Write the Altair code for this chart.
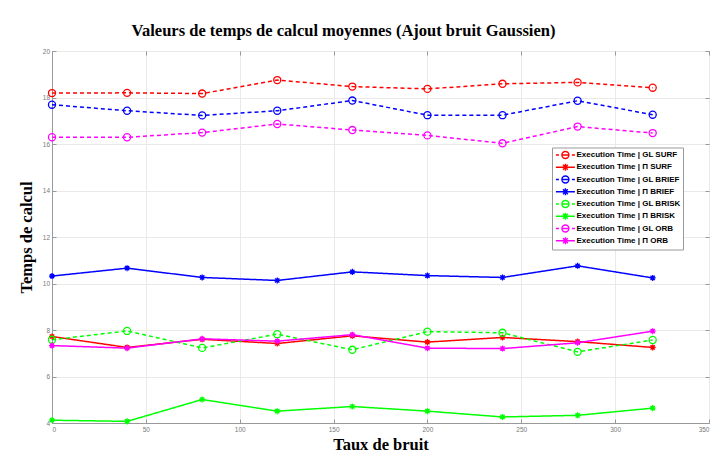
import altair as alt
import pandas as pd

# ---- data ----
x_vals = [0, 40, 80, 120, 160, 200, 240, 280, 320]
series_names = [
    "Execution Time | GL SURF",
    "Execution Time | Π SURF",
    "Execution Time | GL BRIEF",
    "Execution Time | Π BRIEF",
    "Execution Time | GL BRISK",
    "Execution Time | Π BRISK",
    "Execution Time | GL ORB",
    "Execution Time | Π ORB",
]
gl_surf = [18.19, 18.20, 18.17, 18.75, 18.47, 18.37, 18.59, 18.65, 18.42]
pi_surf = [7.72, 7.25, 7.60, 7.42, 7.75, 7.48, 7.68, 7.50, 7.25]
gl_brief = [17.69, 17.43, 17.23, 17.43, 17.87, 17.24, 17.24, 17.86, 17.26]
pi_brief = [10.32, 10.66, 10.26, 10.13, 10.50, 10.34, 10.26, 10.76, 10.24]
gl_brisk = [7.58, 7.96, 7.23, 7.82, 7.15, 7.93, 7.88, 7.06, 7.57]
pi_brisk = [4.12, 4.07, 5.01, 4.51, 4.71, 4.51, 4.26, 4.33, 4.64]
gl_orb = [16.29, 16.29, 16.49, 16.86, 16.60, 16.37, 16.03, 16.75, 16.47]
pi_orb = [7.33, 7.22, 7.62, 7.52, 7.80, 7.22, 7.20, 7.45, 7.95]
series_values = [gl_surf, pi_surf, gl_brief, pi_brief, gl_brisk, pi_brisk, gl_orb, pi_orb]

x_ticks = [0, 50, 100, 150, 200, 250, 300, 350]
y_ticks = [4, 6, 8, 10, 12, 14, 16, 18, 20]

# ---- styles ----
series_colors = ["#ff0000", "#ff0000", "#0000ff", "#0000ff",
                 "#00ff00", "#00ff00", "#ff00ff", "#ff00ff"]
series_dashes = [[4, 3], [1, 0]] * 4
series_fills = ["transparent" if i % 2 == 0 else c for i, c in enumerate(series_colors)]

# plot markers (unit square paths)
circle_mark = "circle"
star_mark = ("M-0.85,0L0.85,0M0,-0.85L0,0.85M-0.6,-0.6L0.6,0.6M-0.6,0.6L0.6,-0.6"
             "M-0.4,0A0.4,0.4 0 1,0 0.4,0A0.4,0.4 0 1,0 -0.4,0")
plot_shapes = [circle_mark, star_mark] * 4

# legend symbols: line sample + marker in one path
leg_gl = ("M-0.9,0L-0.15,0M0.6,0L2.35,0M3.1,0L3.85,0"
          "M0.6,0A0.875,0.875 0 1,0 2.35,0A0.875,0.875 0 1,0 0.6,0")
leg_pi = ("M-0.9,0L3.85,0"
          "M0.625,0L2.325,0M1.475,-0.85L1.475,0.85M0.875,-0.6L2.075,0.6M0.875,0.6L2.075,-0.6"
          "M1.075,0A0.4,0.4 0 1,0 1.875,0A0.4,0.4 0 1,0 1.075,0")
legend_shapes = [leg_gl, leg_pi] * 4

rows = []
for name, vals in zip(series_names, series_values):
    for xv, yv in zip(x_vals, vals):
        rows.append({"x": xv, "y": yv, "series": name})
df = pd.DataFrame(rows)

AX_LABEL = dict(labelFont="Liberation Sans", labelFontSize=6.5, labelColor="#777777",
                domainColor="#999999", tickColor="#999999", gridColor="#e9e9e9")
TITLE_FONT = dict(titleFont="Liberation Serif", titleFontWeight="bold",
                  titleFontSize=16.5, titleColor="black")

x_scale = alt.Scale(domain=[0, 350], nice=False)
y_scale = alt.Scale(domain=[4, 20], nice=False, zero=False)

legend = alt.Legend(
    title=None, orient="none", legendX=500, legendY=96.5,
    fillColor="white", strokeColor="#999999", padding=2.5,
    symbolSize=64, symbolStrokeWidth=1.4,
    labelFont="Liberation Sans", labelFontWeight="bold", labelFontSize=8.0,
    labelColor="black", labelLimit=0, labelOffset=12, rowPadding={"expr": "-1.75"},
)

lines = alt.Chart(df).mark_line(strokeWidth=1.5).encode(
    x=alt.X("x:Q", scale=x_scale, axis=alt.Axis(
        values=x_ticks, title="Taux de bruit", grid=True, tickSize={"expr": "-4"},
        labelPadding=7, titlePadding=4, **AX_LABEL, **TITLE_FONT)),
    y=alt.Y("y:Q", scale=y_scale, axis=alt.Axis(
        values=y_ticks, title="Temps de calcul", grid=True, tickSize={"expr": "-4"},
        labelPadding=6.5, titlePadding=8, **AX_LABEL, **TITLE_FONT)),
    color=alt.Color("series:N", scale=alt.Scale(domain=series_names, range=series_colors),
                    legend=None),
    strokeDash=alt.StrokeDash("series:N", scale=alt.Scale(domain=series_names, range=series_dashes),
                              legend=None),
)

points = alt.Chart(df).mark_point(filled=True, size=50, strokeWidth=1.3, opacity=1).encode(
    x=alt.X("x:Q", scale=x_scale, axis=alt.Axis(
        orient="top", values=x_ticks, labels=False, title=None, grid=False,
        domain=False, tickSize={"expr": "-4"}, **AX_LABEL)),
    y=alt.Y("y:Q", scale=y_scale, axis=alt.Axis(
        orient="right", values=y_ticks, labels=False, title=None, grid=False,
        domain=False, tickSize={"expr": "-4"}, **AX_LABEL)),
    shape=alt.Shape("series:N", scale=alt.Scale(domain=series_names, range=plot_shapes), legend=None),
    stroke=alt.Stroke("series:N", scale=alt.Scale(domain=series_names, range=series_colors), legend=None),
    fill=alt.Fill("series:N", scale=alt.Scale(domain=series_names, range=series_fills), legend=None),
)

# legend-only layer (no marks drawn, its scales feed the legend)
legend_layer = alt.Chart(df).transform_filter("false").mark_point(
    filled=True, size=64, strokeWidth=1.4, opacity=1
).encode(
    x=alt.X("x:Q", scale=x_scale, axis=None),
    y=alt.Y("y:Q", scale=y_scale, axis=None),
    shape=alt.Shape("series:N", scale=alt.Scale(domain=series_names, range=legend_shapes), legend=legend),
    stroke=alt.Stroke("series:N", scale=alt.Scale(domain=series_names, range=series_colors), legend=legend),
    fill=alt.Fill("series:N", scale=alt.Scale(domain=series_names, range=series_fills), legend=legend),
)

chart = alt.layer(lines, points, legend_layer).resolve_axis(
    x="independent", y="independent"
).resolve_scale(shape="independent", stroke="independent", fill="independent").properties(
    width=657, height=372,
    autosize=alt.AutoSizeParams(type="none"),
    padding={"left": 44, "top": 43, "right": 4, "bottom": 30},
    title=alt.TitleParams(
        "Valeurs de temps de calcul moyennes (Ajout bruit Gaussien)",
        font="Liberation Serif", fontSize=16.5, fontWeight="bold", color="black",
        anchor="middle", dx=-37, offset=9,
    ),
).configure_view(stroke="#999999", strokeWidth=1).configure(background="white")

chart.save("out.html", embed_options={"renderer": "svg", "actions": False})
